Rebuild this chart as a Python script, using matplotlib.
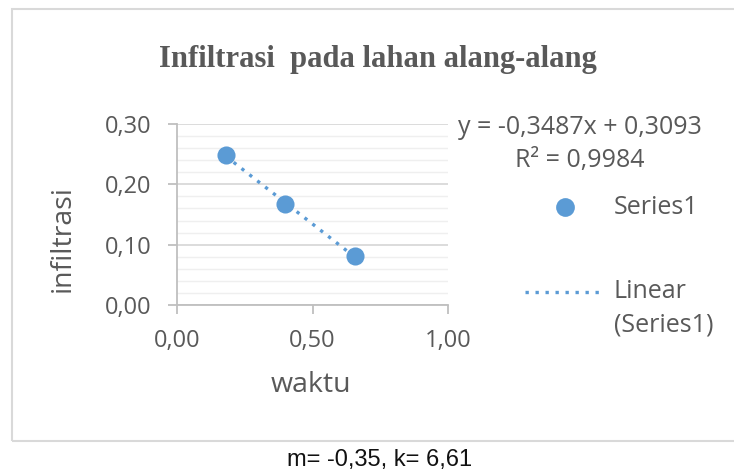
import numpy as np
import matplotlib
matplotlib.use("Agg")
import matplotlib.pyplot as plt
from matplotlib.patches import Rectangle
from matplotlib.lines import Line2D

# data
waktu = [0.18, 0.40, 0.655]
infiltrasi = [0.248, 0.167, 0.081]
x_ticks = [0.0, 0.5, 1.0]
x_ticklabels = ["0,00", "0,50", "1,00"]
y_ticks = [0.0, 0.1, 0.2, 0.3]
y_ticklabels = ["0,00", "0,10", "0,20", "0,30"]
title = "Infiltrasi  pada lahan alang-alang"
equation = "y = -0,3487x + 0,3093"
r2 = "R² = 0,9984"
caption = "m= -0,35, k= 6,61"

W, H = 734, 471
fig = plt.figure(figsize=(W / 100, H / 100), dpi=100)
fig.patch.set_facecolor("white")

def fx(px):
    return px / W

def fy(py):
    return 1 - py / H

# outer chart border
fig.add_artist(Rectangle((fx(12), fy(441)), fx(800), fy(9) - fy(441),
                         transform=fig.transFigure, fill=False,
                         edgecolor="#d9d9d9", linewidth=1.5))

ax = fig.add_axes([fx(177), fy(305), fx(448) - fx(177), fy(124) - fy(305)])
ax.set_xlim(0, 1)
ax.set_ylim(0, 0.30)

font = "Open Sans"
gray = "#595959"
blue = "#5b9bd5"

ax.set_yticks(y_ticks)
ax.set_yticklabels(y_ticklabels, fontsize=17, color=gray, family=font)
ax.set_xticks(x_ticks)
ax.set_xticklabels(x_ticklabels, fontsize=17, color=gray, family=font)
ax.set_yticks(np.arange(0, 0.301, 0.02), minor=True)
ax.tick_params(axis="y", which="minor", length=0)
ax.tick_params(axis="both", which="major", length=6.5, width=1.3,
               color="#bfbfbf", direction="out")
ax.tick_params(axis="y", which="major", pad=12)
ax.tick_params(axis="x", which="major", pad=11)
ax.grid(axis="y", which="major", color="#d9d9d9", linewidth=1.3)
ax.grid(axis="y", which="minor", color="#efefef", linewidth=1.0)
ax.set_axisbelow(True)
for s in ["top", "right"]:
    ax.spines[s].set_visible(False)
for s in ["left", "bottom"]:
    ax.spines[s].set_color("#bfbfbf")
    ax.spines[s].set_linewidth(1.3)

# trendline via least squares
coef = np.polyfit(waktu, infiltrasi, 1)
xs = np.array([min(waktu), max(waktu)])
ax.plot(xs, np.polyval(coef, xs), linestyle=(0, (1, 2.0)), color=blue,
        linewidth=2.4, zorder=3)
ax.scatter(waktu, infiltrasi, s=170, color=blue, zorder=4, linewidths=0)

fig.text(fx(311), fy(385), "waktu", ha="center", va="center", fontsize=20.5,
         family=font, color=gray)
fig.text(fx(63), fy(239), "infiltrasi", ha="center", va="center",
         fontsize=20.5, family=font, color=gray, rotation=90)

fig.text(fx(378), fy(60), title, ha="center", va="center", fontsize=22,
         fontweight="bold", family="Liberation Serif", color=gray)

fig.text(fx(580), fy(128), equation, ha="center", va="center", fontsize=18,
         family=font, color=gray)
fig.text(fx(580), fy(161), r2, ha="center", va="center", fontsize=18,
         family=font, color=gray)

# legend (manual)
fig.add_artist(Line2D([fx(565)], [fy(207)], marker="o", markersize=13.5,
                      color=blue, linestyle="none", markeredgewidth=0,
                      transform=fig.transFigure))
fig.text(fx(614), fy(207), "Series1", ha="left", va="center", fontsize=18,
         family=font, color=gray)
fig.add_artist(Line2D([fx(525), fx(602)], [fy(292), fy(292)],
                      linestyle=(0, (1, 2.0)), color=blue, linewidth=2.4,
                      transform=fig.transFigure))
fig.text(fx(614), fy(292), "Linear", ha="left", va="center", fontsize=18,
         family=font, color=gray)
fig.text(fx(614), fy(325), "(Series1)", ha="left", va="center", fontsize=18,
         family=font, color=gray)

fig.text(fx(380), fy(460), caption, ha="center", va="center", fontsize=17,
         family="Liberation Sans", color="#111111")

fig.savefig("out.png", dpi=100)
